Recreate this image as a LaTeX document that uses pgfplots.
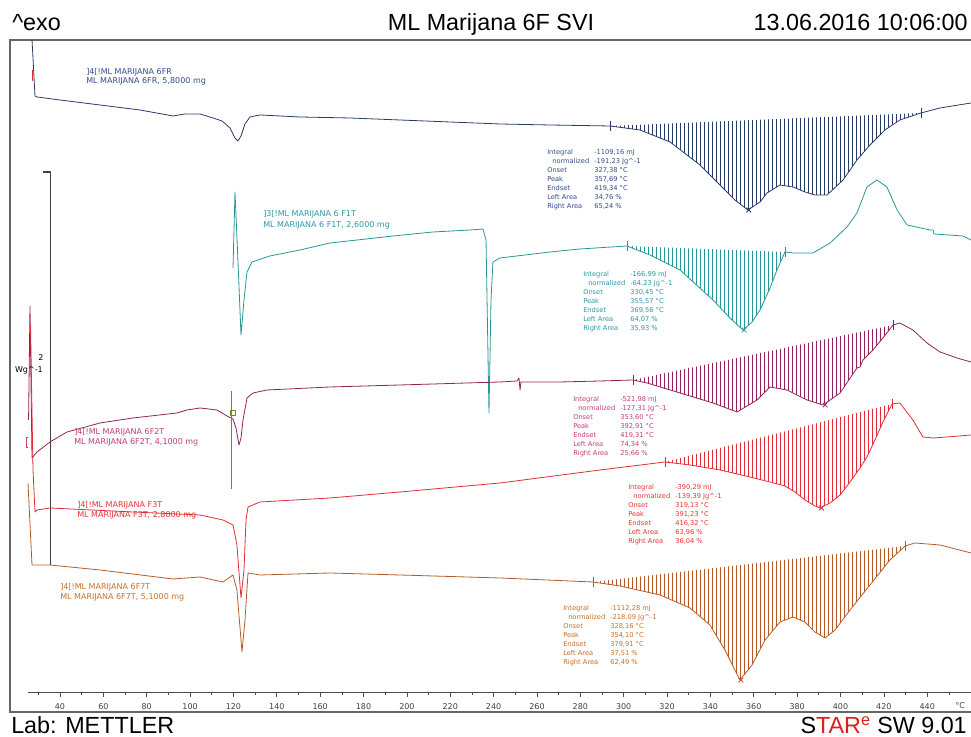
\documentclass[border=0pt]{standalone}
\usepackage{pgfplots}
\pgfplotsset{compat=1.18}
\usepgfplotslibrary{fillbetween}
\usetikzlibrary{patterns.meta}
\usepackage{fontspec}
\setmainfont{Liberation Sans}
\newfontfamily\dejavu{DejaVu Sans}
\definecolor{cnavy}{RGB}{40,60,100}
\definecolor{cnavyt}{RGB}{50,75,140}
\definecolor{cteal}{RGB}{40,150,150}
\definecolor{ctealt}{RGB}{45,150,165}
\definecolor{cpurp}{RGB}{145,35,90}
\definecolor{cpurpt}{RGB}{195,60,115}
\definecolor{cred}{RGB}{225,45,55}
\definecolor{credt}{RGB}{230,50,50}
\definecolor{cbrown}{RGB}{180,90,40}
\definecolor{cbrownt}{RGB}{200,110,40}
\definecolor{colive}{RGB}{110,140,40}
\definecolor{cstar}{RGB}{220,30,30}
\tikzset{lab/.style={anchor=base west, inner sep=0pt, font=\dejavu\fontsize{6}{7}\selectfont},
ann/.style={anchor=base west, inner sep=0pt, font=\dejavu\fontsize{5}{6}\selectfont}}
\newcommand\ann[9]{%
\node[ann] at (#1,#2) {Integral};
\node[ann] at (#1+47,#2) {#3};
\node[ann] at (#1+5,#2+9) {normalized};
\node[ann] at (#1+47,#2+9) {#4};
\node[ann] at (#1,#2+18) {Onset};
\node[ann] at (#1+47,#2+18) {#5};
\node[ann] at (#1,#2+27) {Peak};
\node[ann] at (#1+47,#2+27) {#6};
\node[ann] at (#1,#2+36) {Endset};
\node[ann] at (#1+47,#2+36) {#7};
\node[ann] at (#1,#2+45) {Left Area};
\node[ann] at (#1+47,#2+45) {#8};
\node[ann] at (#1,#2+54) {Right Area};
\node[ann] at (#1+47,#2+54) {#9};}
\begin{document}
\begin{tikzpicture}
\begin{axis}[at={(0pt,0pt)}, anchor=south west, scale only axis, width=727.5pt, height=504pt,
 xmin=16.94, xmax=464.35, ymin=0, ymax=672, xtick=\empty, ytick=\empty,
 axis line style={black!60, line width=0.8pt},
 every axis plot/.append style={line width=0.6pt, line join=round}]
% navy 6FR
\addplot[cnavy, name path=navy] coordinates {(27.1,672) (28.47,616) (29.39,615) (40.0,612) (58.45,607) (76.9,602) (92.1,596) (97.66,598) (104.58,598) (110.57,594) (114.72,591) (118.41,584) (120.72,574) (122.1,571) (123.49,576) (125.33,588) (127.64,595) (132.25,597) (150.7,595) (173.76,594) (196.83,592) (219.89,590) (242.95,588) (266.0,587) (293.7,586) (307.5,582) (321.4,570) (335.2,547) (344.4,527) (351.3,512) (357.3,502) (362.9,510) (366.1,519) (372.1,527) (378.1,525) (383.6,520) (388.2,517) (393.8,517) (401.2,532) (407.6,552) (413.6,567) (420.5,582) (427.4,592) (437.1,599) (445.9,604) (460.2,609) (464,609)};
\addplot[draw=none, name path=navyb] coordinates {(293.7,586) (437.1,599)};
\addplot[draw=none, pattern={Lines[angle=90,distance=3pt,line width=0.55pt]}, pattern color=cnavy] fill between[of=navy and navyb, soft clip={domain=293.7:437.1}];
\addplot[cnavy, only marks, mark=|, mark size=3.5pt] coordinates {(293.7,586) (437.1,599)};
\addplot[cnavy, only marks, mark=x, mark size=2.5pt] coordinates {(357.69,502)};
\addplot[cred, line width=0.5pt] coordinates {(27.6,642) (27.3,642) (27.3,632) (27.6,632)};
% teal 6F1T
\addplot[cteal, name path=teal] coordinates {(119.8,444) (120.72,520) (122.1,450) (123.49,377) (124.87,412) (126.26,440) (128.56,450) (136.86,456) (150.7,462) (164.54,469) (193.6,476) (212.05,480) (229.1,482) (235.1,483) (236.5,472) (237.87,299) (238.8,412) (239.7,450) (242.95,454) (266.0,460) (279.8,463) (301.5,466) (312.1,457) (326.0,442) (341.2,412) (349.0,394) (355.0,382) (359.2,390) (362.9,402) (367.5,424) (370.7,442) (374.4,460) (378.1,459) (387.3,459) (395.2,469) (403.0,485) (407.6,499) (412.2,525) (416.8,532) (421.4,525) (426.1,502) (430.7,487) (441.3,482) (442.7,482) (443.1,478) (456.5,476) (460.2,472) (464,470)};
\addplot[draw=none, name path=tealb] coordinates {(301.5,466) (374.4,460)};
\addplot[draw=none, pattern={Lines[angle=90,distance=3pt,line width=0.55pt]}, pattern color=cteal] fill between[of=teal and tealb, soft clip={domain=301.5:374.4}];
\addplot[cteal, only marks, mark=|, mark size=3.5pt] coordinates {(301.5,466) (374.4,460)};
\addplot[cteal, only marks, mark=x, mark size=2.5pt] coordinates {(355.57,382)};
% purple 6F2T
\addplot[cpurp, name path=purp] coordinates {(25.5,292) (26.16,406) (27.09,254) (29.39,260) (35.39,270) (43.23,280) (58.45,289) (73.67,294) (93.97,299) (98.58,302) (104.58,304) (112.41,302) (117.03,296) (119.8,293) (121.18,284) (122.56,267) (123.49,274) (124.41,292) (126.26,314) (129.02,319) (135.48,322) (164.54,325) (196.83,327) (242.95,330) (250.8,331) (251.7,334) (252.2,322) (252.6,330) (270.6,330) (289.08,331) (304.3,332) (310.8,329) (326.0,319) (341.2,309) (352.3,300) (361.5,312) (367.5,325) (375.3,322) (384.6,312) (391.9,307) (399.8,319) (407.6,344) (409.0,345) (410.4,352) (415.0,362) (421.4,379) (424.2,387) (427.4,389) (433.4,382) (439.9,369) (445.9,360) (453.7,354) (460.2,350) (464,348)};
\addplot[draw=none, name path=purpb] coordinates {(304.3,332) (424.2,387)};
\addplot[draw=none, pattern={Lines[angle=90,distance=3pt,line width=0.55pt]}, pattern color=cpurp] fill between[of=purp and purpb, soft clip={domain=304.3:424.2}];
\addplot[cpurp, only marks, mark=|, mark size=3.5pt] coordinates {(304.3,332) (424.2,387)};
\addplot[cpurp, only marks, mark=x, mark size=2.5pt] coordinates {(392.91,307)};
\addplot[cpurpt, line width=0.5pt] coordinates {(24.9,275) (24.6,275) (24.6,265) (24.9,265)};
% red F3T
\addplot[cred, name path=red] coordinates {(26.4,387) (27.55,242) (28.47,200) (29.39,202) (35.39,204) (73.67,200) (104.58,197) (115.18,192) (119.8,187) (121.6,167) (123.49,114) (124.87,142) (125.8,192) (126.72,205) (132.25,210) (164.54,214) (196.83,220) (242.95,229) (289.08,242) (319.05,250) (330.6,247) (344.4,242) (358.3,235) (367.5,230) (374.4,226) (379.0,220) (383.6,212) (388.2,206) (390.6,204) (395.2,209) (399.8,217) (404.4,230) (409.0,244) (412.2,255) (415.9,272) (419.6,290) (423.8,308) (427.4,309) (433.4,292) (438.0,275) (442.7,274) (449.1,275) (460.2,277) (464,277)};
\addplot[draw=none, name path=redb] coordinates {(319.05,250) (423.8,308)};
\addplot[draw=none, pattern={Lines[angle=90,distance=3pt,line width=0.55pt]}, pattern color=cred] fill between[of=red and redb, soft clip={domain=319.05:423.8}];
\addplot[cred, only marks, mark=|, mark size=3.5pt] coordinates {(319.05,250) (423.8,308)};
\addplot[cred, only marks, mark=x, mark size=2.5pt] coordinates {(391.23,204)};
% brown 6F7T
\addplot[cbrown, name path=brown] coordinates {(25.24,229) (27.09,147) (35.39,147) (58.45,142) (92.1,133) (104.58,135) (115.18,130) (119.8,137) (121.6,122) (123.95,60) (125.33,92) (126.72,139) (132.25,137) (164.54,139) (196.83,137) (242.95,134) (285.85,130) (298.3,126) (316.8,117) (330.6,104) (339.8,87) (346.7,62) (353.6,32) (359.2,47) (365.2,72) (372.1,90) (378.1,95) (383.6,90) (388.2,80) (392.9,74) (397.5,82) (404.4,102) (413.6,127) (422.8,152) (429.8,166) (434.4,169) (445.9,167) (460.2,159) (464,158)};
\addplot[draw=none, name path=brownb] coordinates {(285.85,130) (429.8,166)};
\addplot[draw=none, pattern={Lines[angle=90,distance=3pt,line width=0.55pt]}, pattern color=cbrown] fill between[of=brown and brownb, soft clip={domain=285.85:429.8}];
\addplot[cbrown, only marks, mark=|, mark size=3.5pt] coordinates {(285.85,130) (429.8,166)};
\addplot[cbrown, only marks, mark=x, mark size=2.5pt] coordinates {(354.10,32)};
% scale bar and marker bar
\addplot[black!75, line width=0.8pt] coordinates {(32.2,540) (35.6,540) (35.6,147)};
\addplot[colive, line width=0.8pt] coordinates {(119.3,321) (119.3,223)};
\addplot[colive, only marks, mark=square, mark size=2pt] coordinates {(119.6,299)};
\end{axis}
\begin{axis}[at={(13.5pt,15pt)}, anchor=south west, scale only axis, width=714pt, height=5pt,
 xmin=25.24, xmax=464.35, ymin=0, ymax=1, axis x line=bottom, axis y line=none,
 axis line style={-, black!70, line width=0.6pt},
 xtick={40,60,...,440}, minor xtick={30,50,...,450}, tick align=outside,
 major tick length=3.75pt, minor tick length=2.25pt, tick style={black!70, line width=0.5pt},
 xticklabel style={font=\dejavu\fontsize{6}{7}\selectfont, text=black!75, yshift=-1.5pt},
 /pgf/number format/assume math mode=true]
\addplot[draw=none] coordinates {(100,0.5)};
\end{axis}
\begin{scope}[x=0.75pt, y=-0.75pt, shift={(-7.5pt,534pt)}]
\node[anchor=base west, inner sep=0pt, font=\fontsize{17.5}{20}\selectfont] at (12,31) {\textasciicircum exo};
\node[anchor=base, inner sep=0pt, font=\fontsize{17.5}{20}\selectfont] at (491,31) {ML Marijana 6F SVI};
\node[anchor=base east, inner sep=0pt, font=\fontsize{17.5}{20}\selectfont] at (968,31) {13.06.2016 10:06:00};
\node[anchor=base west, inner sep=0pt, font=\fontsize{17.5}{20}\selectfont] at (11,734) {Lab: METTLER};
\node[anchor=base east, inner sep=0pt, font=\fontsize{17.5}{20}\selectfont] at (967,734) {S\textcolor{cstar}{TAR}\textsuperscript{\textcolor{cstar}{e}} SW 9.01};
\node[anchor=base west, inner sep=0pt, font=\dejavu\fontsize{6}{7}\selectfont, text=black!75] at (955,709) {°C};
\node[anchor=center, inner sep=0pt, font=\dejavu\fontsize{6}{7}\selectfont] at (41,358) {2};
\node[anchor=east, inner sep=0pt, font=\dejavu\fontsize{6}{7}\selectfont] at (43,370) {Wg\textasciicircum-1};
\begin{scope}[cnavyt]
\node[lab] at (86,75) {]4[!ML MARIJANA 6FR};
\node[lab] at (86,84) {ML MARIJANA 6FR, 5,8000 mg};
\ann{547}{155}{-1109,16 mJ}{-191,23 Jg\textasciicircum-1}{327,38 °C}{357,69 °C}{419,34 °C}{34,76 \%}{65,24 \%}
\end{scope}
\begin{scope}[ctealt]
\node[lab] at (263,217) {]3[!ML MARIJANA 6 F1T};
\node[lab] at (263,228) {ML MARIJANA 6 F1T, 2,6000 mg};
\ann{583}{277}{-166,99 mJ}{-64,23 Jg\textasciicircum-1}{330,45 °C}{355,57 °C}{369,56 °C}{64,07 \%}{35,93 \%}
\end{scope}
\begin{scope}[cpurpt]
\node[lab] at (74,435) {]4[!ML MARIJANA 6F2T};
\node[lab] at (74,445) {ML MARIJANA 6F2T, 4,1000 mg};
\ann{573}{402}{-521,98 mJ}{-127,31 Jg\textasciicircum-1}{353,60 °C}{392,91 °C}{419,31 °C}{74,34 \%}{25,66 \%}
\end{scope}
\begin{scope}[credt]
\node[lab] at (77,508) {]4[!ML MARIJANA F3T};
\node[lab] at (77,518) {ML MARIJANA F3T, 2,8000 mg};
\ann{628}{490}{-390,29 mJ}{-139,39 Jg\textasciicircum-1}{319,13 °C}{391,23 °C}{416,32 °C}{63,96 \%}{36,04 \%}
\end{scope}
\begin{scope}[cbrownt]
\node[lab] at (60,590) {]4[!ML MARIJANA 6F7T};
\node[lab] at (60,600) {ML MARIJANA 6F7T, 5,1000 mg};
\ann{563}{611}{-1112,28 mJ}{-218,09 Jg\textasciicircum-1}{328,16 °C}{354,10 °C}{379,91 °C}{37,51 \%}{62,49 \%}
\end{scope}
\pgfresetboundingbox
\path[use as bounding box] (0,0) rectangle (971,737);
\end{scope}
\end{tikzpicture}
\end{document}
